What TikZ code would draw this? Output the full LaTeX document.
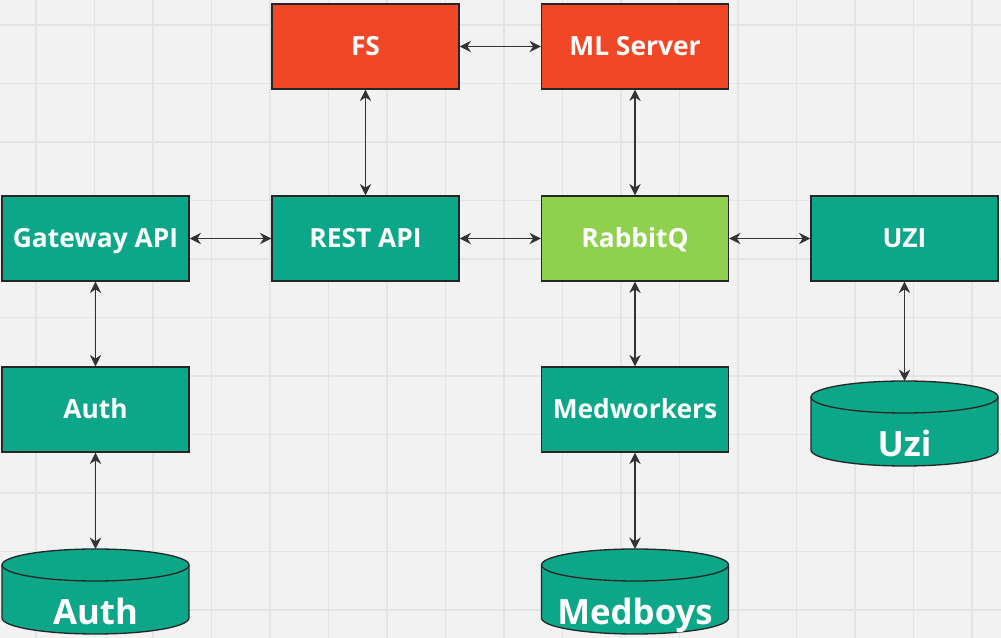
\documentclass[tikz,border=0pt]{standalone}
\usepackage{fontspec}
\setmainfont{Open Sans}
\usetikzlibrary{arrows.meta}
\definecolor{miroteal}{HTML}{0CA789}
\definecolor{mirored}{HTML}{F24726}
\definecolor{mirolime}{HTML}{8FD14F}
\definecolor{paper}{HTML}{F2F2F2}
\definecolor{gridline}{HTML}{E4E4E4}
\definecolor{ink}{HTML}{333333}
\newcommand{\Drum}[4]{
    \filldraw[fill=miroteal, draw=black!85, line width=0.75pt] (#2-93.5,#3) -- (#2-93.5,#3+53) arc[start angle=180,end angle=0,x radius=93.5,y radius=16] -- (#2+93.5,#3) arc[start angle=0,end angle=-180,x radius=93.5,y radius=16] -- cycle;
    \draw[black!85, line width=0.75pt] (#2+93.5,#3+53) arc[start angle=0,end angle=-180,x radius=93.5,y radius=16];
    \node[drumtext] (#1) at (#2,#3-6.5) {#4};
    \coordinate (#1top) at (#2,#3+69);
}

\begin{document}
\begin{tikzpicture}[x=0.02cm, y=0.02cm,
    service/.style={draw=black!85, line width=0.75pt, fill=miroteal, text=white, minimum width=3.74cm, minimum height=1.7cm, inner sep=0pt, font=\fontsize{15pt}{18pt}\selectfont\bfseries, text height=1.0em, text depth=0pt},
    drumtext/.style={anchor=base, text=white, inner sep=0pt, font=\fontsize{19.8pt}{24pt}\selectfont\bfseries},
    link/.style={{Stealth[length=6.5pt,width=6.5pt]}-{Stealth[length=6.5pt,width=6.5pt]}, ink, line width=0.8pt}]
    \fill[paper] (0,0) rectangle (1001,638);
    \useasboundingbox (0,0) rectangle (1001,638);
    \foreach \gx in {0,...,16}
        \draw[gridline, line width=0.6pt] (36+58.5*\gx,0) -- (36+58.5*\gx,638);
    \foreach \gy in {0,...,10}
        \draw[gridline, line width=0.6pt] (0,613-58.5*\gy) -- (1001,613-58.5*\gy);
    \node[service, fill=mirored] (fs) at (365.5,591.5) {FS};
    \node[service, fill=mirored] (ml) at (635,591.5) {ML Server};
    \node[service] (gateway) at (95.5,399.5) {Gateway API};
    \node[service] (rest) at (365.5,399.5) {REST API};
    \node[service, fill=mirolime] (rabbit) at (635,399.5) {RabbitQ};
    \node[service] (uzi) at (904.5,399.5) {UZI};
    \node[service] (auth) at (95.5,228.5) {Auth};
    \node[service] (medworkers) at (635,228.5) {Medworkers};
    \Drum{authdb}{95.5}{20}{Auth}
    \Drum{medboys}{635}{20}{Medboys}
    \Drum{uzidb}{904.5}{188}{Uzi}
    \draw[link] (fs) -- (ml);
    \draw[link] (fs) -- (rest);
    \draw[link] (ml) -- (rabbit);
    \draw[link] (gateway) -- (rest);
    \draw[link] (rest) -- (rabbit);
    \draw[link] (rabbit) -- (uzi);
    \draw[link] (gateway) -- (auth);
    \draw[link] (rabbit) -- (medworkers);
    \draw[link] (uzi) -- (uzidbtop);
    \draw[link] (auth) -- (authdbtop);
    \draw[link] (medworkers) -- (medboystop);
\end{tikzpicture}
\end{document}
